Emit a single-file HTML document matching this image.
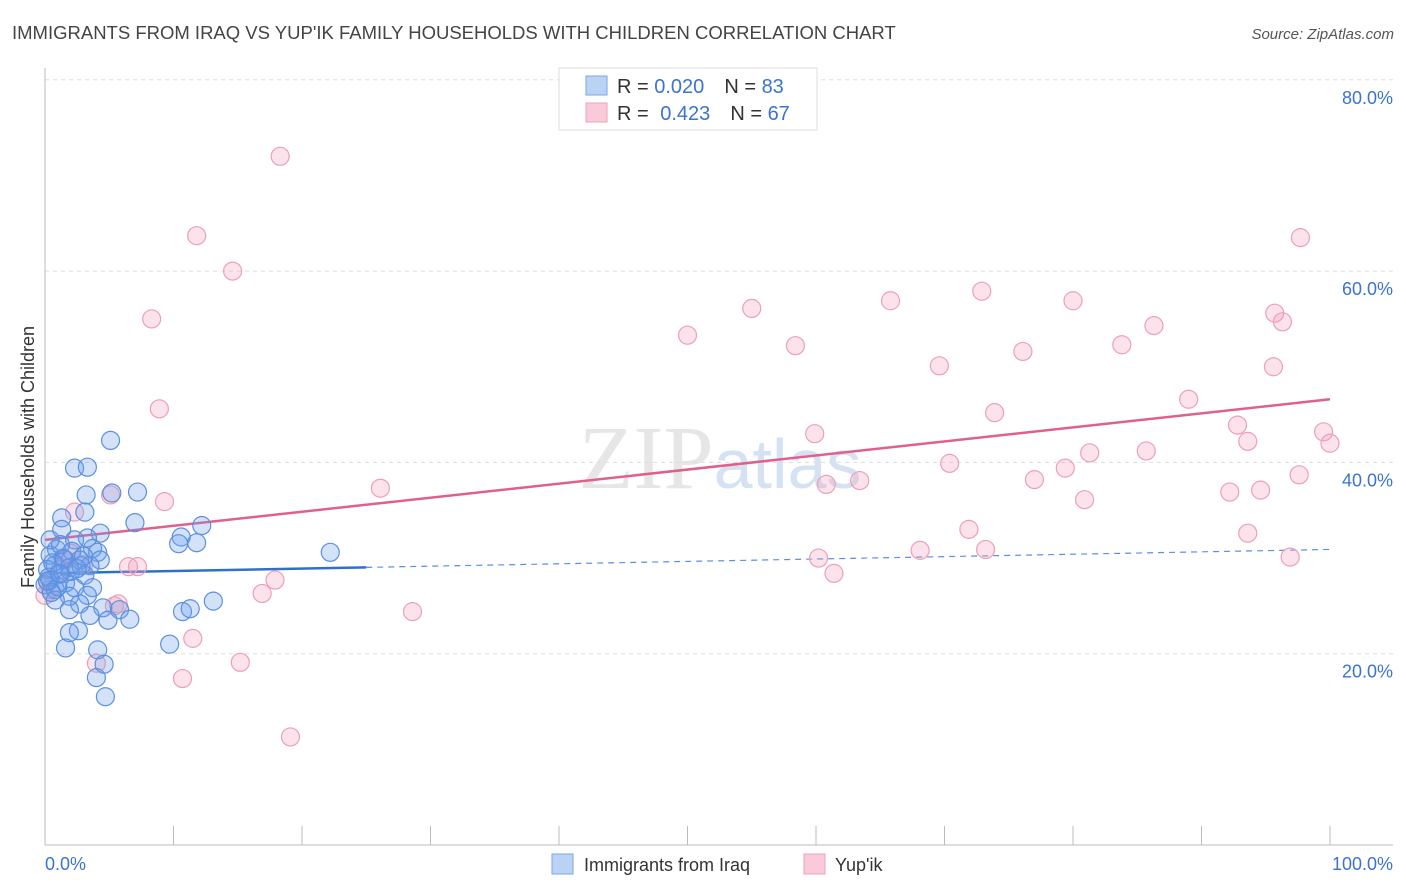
<!DOCTYPE html>
<html><head><meta charset="utf-8"><style>
body{margin:0;background:#fff;font-family:"Liberation Sans",sans-serif;}
svg{display:block}
</style></head><body>
<svg width="1406" height="892" viewBox="0 0 1406 892">
<text x="12" y="39" font-size="18.5" fill="#444">IMMIGRANTS FROM IRAQ VS YUP'IK FAMILY HOUSEHOLDS WITH CHILDREN CORRELATION CHART</text>
<text x="1394" y="39" font-size="15" fill="#555" font-style="italic" text-anchor="end">Source: ZipAtlas.com</text>
<text x="720" y="488" font-size="90" fill="#e6e6e6" text-anchor="middle" font-family="Liberation Serif,serif">ZIP<tspan fill="#d5e2f3" font-family="Liberation Sans,sans-serif" font-size="70">atlas</tspan></text>
<g id="grid"></g>
<g id="axes"></g>
<g id="trend"></g>
<g id="pts"></g>
<text transform="translate(34,457) rotate(-90)" font-size="18" fill="#333" text-anchor="middle">Family Households with Children</text>
<text x="45" y="870" font-size="18" fill="#3b73d1">0.0%</text>
<text x="1393" y="870" font-size="18" fill="#3b73d1" text-anchor="end">100.0%</text>
<g>
<rect x="559" y="68" width="258" height="62" fill="#fff" stroke="#ddd"/>
<rect x="586" y="76" width="21" height="19" fill="#b9d3f5" stroke="#7aa6e6"/>
<rect x="586" y="103" width="21" height="19" fill="#fbcad8" stroke="#eda3bb"/>
<text x="617" y="93" font-size="20" fill="#333">R = <tspan fill="#3b73d1">0.020</tspan><tspan dx="20">N = </tspan><tspan fill="#3b73d1">83</tspan></text>
<text x="617" y="120" font-size="20" fill="#333">R = <tspan dx="6" fill="#3b73d1">0.423</tspan><tspan dx="20">N = </tspan><tspan fill="#3b73d1">67</tspan></text>
</g>
<g><rect x="552" y="854" width="21" height="20" fill="#b9d3f5" stroke="#7aa6e6"/><text x="584" y="871" font-size="18" fill="#333">Immigrants from Iraq</text></g>
<g><rect x="804" y="854" width="21" height="20" fill="#fbcad8" stroke="#eda3bb"/><text x="835" y="871" font-size="18" fill="#333">Yup'ik</text></g>
</svg>
<script>
const yTicks=[20,40,60,80];
const xTicks=[10,20,30,40,50,60,70,80,90,100];
const blueX=[5.1,2.3,3.3,3.2,5.2,7.2,3.1,1.3,7.0,12.2,1.3,4.3,10.6,10.4,11.8,3.3,2.3,3.7,0.9,2.1,22.2,4.1,0.4,1.4,2.7,4.3,0.8,1.9,3.5,0.2,1.2,3.1,0.4,1.6,0,0.8,2.3,3.7,1.9,3.3,2.7,13.1,1.9,4.5,5.8,10.7,11.3,3.5,4.9,6.6,2.6,1.9,9.7,1.6,4.1,4.6,4.0,4.7,0.8,1.2,0.4,0.3,0.6,1.0,2.0,2.8,0.5,1.5,2.5,3.0,0.2,1.1];
const blueY=[42.3,39.4,39.5,36.6,36.8,36.9,34.8,34.2,33.7,33.4,33.0,32.6,32.2,31.5,31.6,32.1,31.9,31.0,30.9,30.7,30.6,30.6,30.3,30.0,29.8,29.8,29.3,29.0,29.2,28.8,28.3,28.2,27.7,27.4,27.2,26.7,26.9,26.9,26.0,26.1,25.2,25.5,24.6,24.8,24.6,24.4,24.7,24.0,23.5,23.6,22.4,22.2,21.0,20.6,20.4,18.9,17.5,15.5,25.6,31.4,31.9,28.0,29.5,27.0,28.6,29.2,26.4,29.9,28.9,30.2,27.6,28.4];
const pinkX=[18.3,11.8,14.6,8.3,8.9,9.3,5.1,2.3,6.5,7.2,5.4,5.7,4.0,11.5,10.7,15.2,16.9,17.9,19.1,26.1,28.6,50.0,55.0,58.4,59.9,60.8,60.2,61.4,63.4,65.8,68.1,69.6,70.4,71.9,72.9,73.2,73.9,76.1,77.0,79.4,80.0,80.9,81.3,83.8,85.7,86.3,89.0,92.2,92.8,93.6,93.6,94.6,95.6,95.7,96.3,96.9,97.6,97.7,99.5,100,0,0.4,1.2,1.6,0.2,3.0,2.0];
const pinkY=[72.0,63.7,60.0,55.0,45.6,35.9,36.6,34.8,29.1,29.1,25.0,25.2,19.0,21.6,17.4,19.1,26.3,27.7,11.3,37.3,24.4,53.3,56.1,52.2,43.0,37.7,30.0,28.4,38.1,56.9,30.8,50.1,39.9,33.0,57.9,30.9,45.2,51.6,38.2,39.4,56.9,36.1,41.0,52.3,41.2,54.3,46.6,36.9,43.9,42.2,32.6,37.1,50.0,55.6,54.7,30.1,38.7,63.5,43.2,42.0,26.1,26.7,28.8,29.8,27.5,29.3,30.5];
const blueTrend=[28.4,30.9];
const blueSolidEnd=25;
const pinkTrend=[31.9,46.6];
const NS='http://www.w3.org/2000/svg';
const X=v=>45+v*12.85;
const Y=v=>845-v*9.565;
function mk(t,a,p){const e=document.createElementNS(NS,t);for(const k in a)e.setAttribute(k,a[k]);p.appendChild(e);return e;}
const grid=document.getElementById('grid'),axes=document.getElementById('axes'),trend=document.getElementById('trend'),pts=document.getElementById('pts');
yTicks.forEach(t=>{
  const l=mk('line',{x1:45,x2:1393,y1:Y(t),y2:Y(t),stroke:'#ddd','stroke-dasharray':'4,4'},grid);
  
  
  const tx=mk('text',{x:1393,y:Y(t)+24,'font-size':18,fill:'#3b73d1','text-anchor':'end'},grid);
  tx.textContent=t.toFixed(1)+'%';
  
  
});
const ya=mk('line',{x1:45,x2:45,y1:68,y2:845,stroke:'#bbb'},axes);


const xa=mk('line',{x1:45,x2:1393,y1:845,y2:845,stroke:'#bbb'},axes);


xTicks.forEach(t=>{
  const l=mk('line',{x1:X(t),x2:X(t),y1:826,y2:845,stroke:'#bbb'},axes);
  
  
});
function drawPts(xs,ys,fill,stroke,name){
  xs.forEach((v,i)=>{
    const c=mk('circle',{cx:X(v),cy:Y(ys[i]),r:9,fill:fill,stroke:stroke,'stroke-width':1.2},pts);
    
    
  });
}
drawPts(pinkX,pinkY,'rgba(243,160,188,0.3)','#eba0b9','yupik-point');
drawPts(blueX,blueY,'rgba(110,160,235,0.3)','#5b8fe0','iraq-point');
const bAt=x=>blueTrend[0]+(blueTrend[1]-blueTrend[0])*x/100;
const b1=mk('line',{x1:X(0),y1:Y(bAt(0)),x2:X(blueSolidEnd),y2:Y(bAt(blueSolidEnd)),stroke:'#2f6fd0','stroke-width':2.5},trend);


const b2=mk('line',{x1:X(blueSolidEnd),y1:Y(bAt(blueSolidEnd)),x2:X(100),y2:Y(bAt(100)),stroke:'#5b8fe0','stroke-width':1.2,'stroke-dasharray':'6,5'},trend);


const p1=mk('line',{x1:X(0),y1:Y(pinkTrend[0]),x2:X(100),y2:Y(pinkTrend[1]),stroke:'#e0608c','stroke-width':2.5},trend);


</script>
</body></html>
